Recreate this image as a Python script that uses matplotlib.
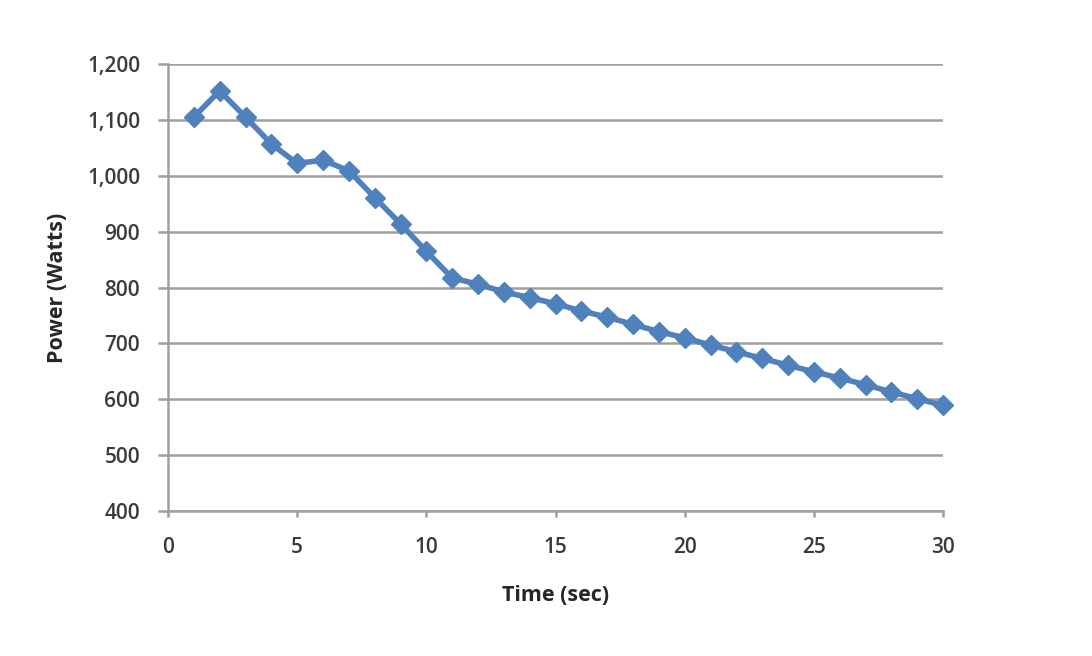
import numpy as np
import matplotlib
matplotlib.use("Agg")
import matplotlib.pyplot as plt
from matplotlib.ticker import FuncFormatter

# data
time_sec = list(range(1, 31))
power_watts = [1105, 1152, 1105, 1057, 1022, 1028, 1009, 961, 914, 865,
               817, 806, 792, 782, 771, 758, 747, 734, 721, 710,
               697, 685, 673, 661, 649, 638, 626, 613, 601, 589]

x_ticks = [0, 5, 10, 15, 20, 25, 30]
y_ticks = [400, 500, 600, 700, 800, 900, 1000, 1100, 1200]

plt.rcParams['font.family'] = ['Open Sans', 'DejaVu Sans']

fig = plt.figure(figsize=(10.92, 6.56), dpi=100)
ax = fig.add_axes([168 / 1092, 1 - 511 / 656, (943 - 168) / 1092, (511 - 64) / 656])

grid_col = '#9f9f9f'
text_col = '#3a3a3a'

ax.plot(time_sec, power_watts, color='#4f81bd', linewidth=4,
        marker='D', markersize=10.5, zorder=3, clip_on=False)

ax.set_xlim(0, 30)
ax.set_ylim(400, 1200)
ax.set_xticks(x_ticks)
ax.set_yticks(y_ticks)
ax.yaxis.set_major_formatter(FuncFormatter(lambda v, p: f'{int(v):,}'))

ax.grid(axis='y', color=grid_col, linewidth=1.8)
ax.set_axisbelow(True)
for side in ['top', 'right']:
    ax.spines[side].set_visible(False)
for side in ['left', 'bottom']:
    ax.spines[side].set_color(grid_col)
    ax.spines[side].set_linewidth(1.8)

ax.tick_params(axis='y', direction='out', length=7, width=1.8, color=grid_col,
               labelsize=15, labelcolor=text_col, pad=13)
ax.tick_params(axis='x', direction='out', length=4, width=1.8, color=grid_col,
               labelsize=15, labelcolor=text_col, pad=15)
for lbl in ax.get_xticklabels() + ax.get_yticklabels():
    lbl.set_fontweight('semibold')

ax.set_xlabel('Time (sec)', fontsize=15.5, fontweight='bold', color='#262626', labelpad=19)
ax.set_ylabel('Power (Watts)', fontsize=15.5, fontweight='bold', color='#262626', labelpad=14)

fig.savefig('out.png', dpi=100, facecolor='white')
